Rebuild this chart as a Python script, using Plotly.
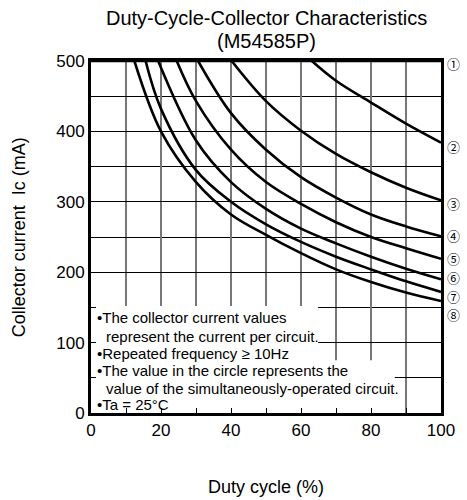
import plotly.graph_objects as go

# ---- data ----
labels = ["①", "②", "③", "④", "⑤", "⑥", "⑦", "⑧"]
label_y = [497, 378, 298, 252, 220, 193, 166, 140]

c1_x = [0, 100]
c1_y = [500, 500]
c2_x = [63.1, 70, 80, 90, 100]
c2_y = [500, 472, 441, 411, 384]
c3_x = [40.2, 50, 60, 70, 80, 90, 100]
c3_y = [500, 443, 401, 368, 342, 320, 302]
c4_x = [30.6, 40, 50, 60, 70, 80, 90, 100]
c4_y = [500, 426, 374, 335, 306, 282, 265, 251]
c5_x = [24.5, 30, 40, 50, 60, 70, 80, 90, 100]
c5_y = [500, 443, 374, 328, 297, 271, 250, 234, 219]
c6_x = [19.2, 30, 40, 50, 60, 70, 80, 90, 100]
c6_y = [500, 387, 328, 290, 262, 241, 222, 205, 190]
c7_x = [15.6, 20, 30, 40, 50, 60, 70, 80, 90, 100]
c7_y = [500, 432, 345, 300, 268, 243, 222, 204, 187, 172]
c8_x = [12.4, 20, 30, 40, 50, 60, 70, 80, 90, 100]
c8_y = [500, 400, 328, 282, 253, 227, 204, 186, 171, 159]

curves_x = [c1_x, c2_x, c3_x, c4_x, c5_x, c6_x, c7_x, c8_x]
curves_y = [c1_y, c2_y, c3_y, c4_y, c5_y, c6_y, c7_y, c8_y]

notes = [
    ("•The collector current values", 1.1, 135),
    ("represent the current per circuit.", 3.6, 109),
    ("•Repeated frequency ≥ 10Hz", 1.1, 85),
    ("•The value in the circle represents the", 1.1, 60),
    ("value of the simultaneously-operated circuit.", 3.6, 35.5),
    ("•Ta = 25°C", 1.1, 11.5),
]

FONT = "Liberation Sans, Arial, sans-serif"

fig = go.Figure()
for xs, ys in zip(curves_x, curves_y):
    fig.add_trace(go.Scatter(x=xs, y=ys, mode="lines",
                             line=dict(color="black", width=2.6, shape="spline", smoothing=1.0),
                             hoverinfo="skip"))

# white masks behind the note text (grid hidden there)
fig.add_shape(type="rect", xref="x", yref="y", x0=0, x1=64.9, y0=74, y1=152,
              fillcolor="white", line=dict(width=0), layer="between")
fig.add_shape(type="rect", xref="x", yref="y", x0=0, x1=86.8, y0=0, y1=75,
              fillcolor="white", line=dict(width=0), layer="between")

ann = []
for t, x, y in notes:
    ann.append(dict(text=t, x=x, y=y, xref="x", yref="y", xanchor="left", yanchor="middle",
                    showarrow=False, font=dict(size=15, family=FONT, color="black")))
for t, y in zip(labels, label_y):
    ann.append(dict(text=t, x=1.0, y=y, xref="paper", yref="y", xanchor="left", yanchor="middle",
                    xshift=5, showarrow=False, borderpad=0,
                    font=dict(size=13, family="Noto Sans CJK JP, DejaVu Sans", color="black")))
ann.append(dict(text="Duty-Cycle-Collector Characteristics", x=0.5, y=(413 - 18) / 352,
                xref="paper", yref="paper", xanchor="center", yanchor="middle", showarrow=False,
                font=dict(size=20, family=FONT, color="black")))
ann.append(dict(text="(M54585P)", x=0.5, y=(413 - 41) / 352,
                xref="paper", yref="paper", xanchor="center", yanchor="middle", showarrow=False,
                font=dict(size=20, family=FONT, color="black")))
ann.append(dict(text="Collector current  Ic (mA)", x=(18 - 91) / 356, y=0.5, textangle=-90,
                xref="paper", yref="paper", xanchor="center", yanchor="middle", showarrow=False,
                font=dict(size=18, family=FONT, color="black")))
ann.append(dict(text="Duty cycle (%)", x=0.5, y=(413 - 487) / 352,
                xref="paper", yref="paper", xanchor="center", yanchor="middle", showarrow=False,
                font=dict(size=18, family=FONT, color="black")))

fig.update_layout(
    width=467, height=500,
    margin=dict(l=91, r=20, t=61, b=87),
    plot_bgcolor="white", paper_bgcolor="white",
    showlegend=False,
    font=dict(family=FONT, color="black"),
    annotations=ann,
)
fig.update_xaxes(range=[0, 100], tick0=0, dtick=20, ticks="inside", ticklen=5, tickcolor="black",
                 showgrid=True, gridcolor="#777777", gridwidth=1.5,
                 minor=dict(dtick=10, showgrid=True, gridcolor="#777777", gridwidth=1.5,
                            ticks="inside", ticklen=5, tickcolor="black"),
                 showline=True, linewidth=3, linecolor="black", mirror=True, zeroline=False,
                 tickfont=dict(size=17, family=FONT, color="black"), fixedrange=True)
fig.update_yaxes(range=[0, 500], tick0=0, dtick=100, ticks="inside", ticklen=5, tickcolor="black",
                 showgrid=True, gridcolor="black", gridwidth=1.2,
                 minor=dict(dtick=50, showgrid=True, gridcolor="black", gridwidth=1.2,
                            ticks="inside", ticklen=5, tickcolor="black"),
                 showline=True, linewidth=3, linecolor="black", mirror=True, zeroline=False,
                 tickfont=dict(size=17, family=FONT, color="black"), fixedrange=True)

fig.write_html("out.html", config={"displayModeBar": False},
               post_script="document.body.style.margin='0';document.body.style.overflow='hidden';")
